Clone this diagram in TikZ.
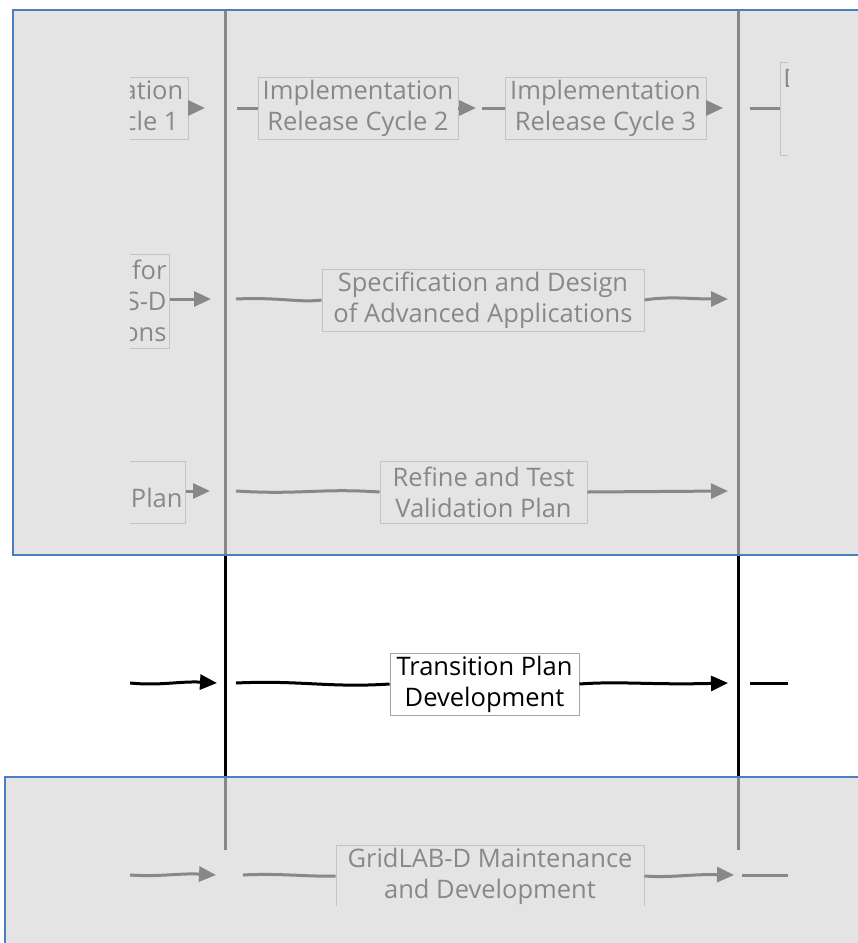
\documentclass[tikz,border=0pt]{standalone}
\usepackage{fontspec}
\setmainfont{Open Sans}
\usetikzlibrary{arrows.meta}
\definecolor{panelblue}{RGB}{74,126,192}
\definecolor{veil}{RGB}{213,213,213}
\definecolor{boxline}{RGB}{165,165,165}
\tikzset{
  stage/.style={draw=boxline, line width=0.9pt, fill=white, inner sep=0pt,
    align=center, font=\fontsize{25.5}{31}\selectfont, text=black},
  flow/.style={line width=3pt, -{Triangle[length=17pt,width=15pt]}},
  link/.style={line width=3pt},
  phase/.style={line width=3pt},
  veilpanel/.style={fill=veil, fill opacity=0.64, draw=none},
  panelframe/.style={draw=panelblue, line width=2pt},
}
\begin{document}
\begin{tikzpicture}[x=1pt,y=-1pt]
\useasboundingbox (0,0) rectangle (858,943);
\fill[white] (0,0) rectangle (858,943);

\begin{scope}
\clip (130,11) rectangle (788,905);
% phase lines
\draw[phase] (225,10) coordinate (pa) -- (225,850) coordinate (pb);
\draw[phase] (738,10) coordinate (qa) -- (738,850) coordinate (qb);

% row 1
\node[stage, minimum width=200, minimum height=62] (c1) at (88,108) {Implementation\\Release Cycle 1};
\node[stage, minimum width=200, minimum height=62] (c2) at (358,108) {Implementation\\Release Cycle 2};
\node[stage, minimum width=201, minimum height=62] (c3) at (605.5,108) {Implementation\\Release Cycle 3};
\node[stage, anchor=north west, minimum height=93, text width=90, align=left, inner xsep=3pt] (c4) at (780,62) {D\\\mbox{}\\\mbox{}};
\coordinate (r1a) at (205,108);
\coordinate (r1b) at (237,108);
\coordinate (r1c) at (476,108);
\coordinate (r1d) at (482,108);
\coordinate (r1e) at (723,108);
\coordinate (r1f) at (750,108);
\draw[flow] (c1.east) -- (r1a);
\draw[link] (r1b) -- (c2.west);
\draw[flow] (c2.east) -- (r1c);
\draw[link] (r1d) -- (c3.west);
\draw[flow] (c3.east) -- (r1e);
\draw[link] (r1f) -- (c4.west |- r1f);

% row 2
\node[stage, anchor=east, minimum height=94, text width=114, align=right, inner xsep=3pt] (s1) at (170,301) {for\\S-D\\ons};
\node[stage, minimum width=322, minimum height=62] (s2) at (483,300) {Specification and Design\\of Advanced Applications};
\coordinate (r2a) at (211,299);
\coordinate (r2b) at (236,299);
\coordinate (r2c) at (728,299);
\draw[flow] (s1.east |- r2a) -- (r2a);
\draw[link] (r2b) .. controls (280,297) and (300,303) .. (s2.west);
\draw[flow] (s2.east) .. controls (670,296) and (690,299) .. (r2c);

% row 3
\node[stage, anchor=east, minimum height=62, text width=114, align=right, inner xsep=3pt] (v1) at (186,492) {\mbox{}\\Plan};
\node[stage, minimum width=207, minimum height=62] (v2) at (483.5,492) {Refine and Test\\Validation Plan};
\coordinate (r3a) at (210,491);
\coordinate (r3b) at (236,491);
\coordinate (r3c) at (728,491);
\draw[flow] (v1.east |- r3a) -- (r3a);
\draw[link] (r3b) .. controls (300,495) and (320,488) .. (v2.west);
\draw[flow] (v2.east) -- (r3c);

% row 4
\node[stage, minimum width=189, minimum height=62] (t1) at (484.5,684) {Transition Plan\\Development};
\coordinate (r4a) at (130,683);
\coordinate (r4b) at (217,683);
\coordinate (r4c) at (236,683);
\coordinate (r4d) at (728,683);
\coordinate (r4e) at (750,683);
\coordinate (r4f) at (788,683);
\draw[flow] (r4a) .. controls (160,686) and (180,681) .. (r4b);
\draw[link] (r4c) .. controls (300,680) and (330,688) .. (t1.west);
\draw[flow] (t1.east) .. controls (620,681) and (650,685) .. (r4d);
\draw[link] (r4e) -- (r4f);

% row 5
\node[stage, minimum width=308, minimum height=62] (m1) at (490,876) {GridLAB-D Maintenance\\and Development};
\coordinate (r5a) at (130,875);
\coordinate (r5b) at (216,875);
\coordinate (r5c) at (243,875);
\coordinate (r5d) at (734,875);
\coordinate (r5e) at (742,875);
\coordinate (r5f) at (788,875);
\draw[flow] (r5a) .. controls (160,877) and (180,873) .. (r5b);
\draw[link] (r5c) .. controls (280,873) and (310,877) .. (m1.west);
\draw[flow] (m1.east) .. controls (670,878) and (690,874) .. (r5d);
\draw[link] (r5e) -- (r5f);
\end{scope}

% translucent panels
\fill[veilpanel] (13,10) rectangle (862,555);
\draw[panelframe] (862,10) -- (13,10) -- (13,555) -- (862,555);
\fill[veilpanel] (5,777) rectangle (862,948);
\draw[panelframe] (862,777) -- (5,777) -- (5,948);
\end{tikzpicture}
\end{document}
